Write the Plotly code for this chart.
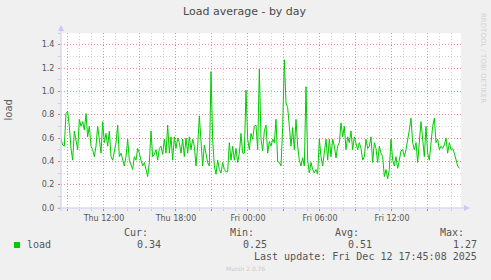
import plotly.graph_objects as go
import pandas as pd

# ---------------- data ----------------
end_time = "2025-12-12 17:45:08"
start_time = "2025-12-11 08:25:08"
step_seconds = 500

load_values = [
    # Thu morning -> afternoon
    0.59, 0.54, 0.53, 0.81, 0.83, 0.70, 0.51, 0.41, 0.66, 0.59,
    0.50, 0.76, 0.70, 0.74, 0.67, 0.81, 0.61, 0.70, 0.53, 0.50,
    0.44, 0.53, 0.70, 0.59, 0.47, 0.74, 0.56, 0.64, 0.53, 0.66,
    0.44, 0.41, 0.50, 0.56, 0.71, 0.44, 0.47, 0.41, 0.36, 0.44,
    0.59, 0.41, 0.36, 0.33, 0.44, 0.41, 0.51, 0.47, 0.41, 0.36,
    0.39, 0.33, 0.27, 0.39, 0.66, 0.44, 0.46, 0.50, 0.41, 0.51,
    # Thu afternoon -> night
    0.53, 0.46, 0.59, 0.47, 0.71, 0.47, 0.61, 0.41, 0.61, 0.51,
    0.60, 0.56, 0.47, 0.59, 0.44, 0.60, 0.47, 0.61, 0.50, 0.59,
    0.53, 0.36, 0.53, 0.79, 0.53, 0.36, 0.54, 0.47, 0.39, 0.36,
    1.17, 0.59, 0.36, 0.29, 0.41, 0.33, 0.30, 0.39, 0.33, 0.31,
    0.31, 0.56, 0.41, 0.53, 0.41, 0.51, 0.39, 0.47, 0.64, 0.47,
    0.47, 1.01, 0.59, 0.50, 0.64, 0.59, 0.70, 0.71, 0.50, 1.19,
    # Fri night -> morning
    0.59, 0.49, 0.66, 0.71, 0.47, 0.57, 0.53, 0.59, 0.56, 0.76,
    0.40, 0.39, 0.36, 0.69, 1.27, 0.90, 0.86, 0.70, 0.53, 0.69,
    0.50, 0.76, 0.53, 0.41, 0.36, 0.43, 0.36, 1.04, 0.41, 0.30,
    0.39, 0.33, 0.30, 0.33, 0.29, 0.59, 0.44, 0.36, 0.47, 0.59,
    0.41, 0.59, 0.44, 0.59, 0.53, 0.43, 0.53, 0.56, 0.73, 0.61,
    0.70, 0.50, 0.61, 0.56, 0.66, 0.50, 0.61, 0.56, 0.50, 0.56,
    # Fri morning -> evening
    0.51, 0.41, 0.44, 0.59, 0.51, 0.53, 0.61, 0.39, 0.56, 0.51,
    0.39, 0.53, 0.47, 0.44, 0.27, 0.33, 0.25, 0.33, 0.59, 0.41,
    0.36, 0.44, 0.34, 0.41, 0.49, 0.50, 0.44, 0.50, 0.61, 0.67,
    0.77, 0.56, 0.50, 0.56, 0.39, 0.56, 0.74, 0.59, 0.44, 0.70,
    0.47, 0.41, 0.56, 0.70, 0.77, 0.56, 0.59, 0.50, 0.53, 0.51,
    0.54, 0.60, 0.47, 0.56, 0.50, 0.51, 0.47, 0.41, 0.36, 0.34,
]

tick_times = [
    "2025-12-11 09:00", "2025-12-11 12:00", "2025-12-11 15:00",
    "2025-12-11 18:00", "2025-12-11 21:00", "2025-12-12 00:00",
    "2025-12-12 03:00", "2025-12-12 06:00", "2025-12-12 09:00",
    "2025-12-12 12:00", "2025-12-12 15:00",
]
tick_labels = ["", "Thu 12:00", "", "Thu 18:00", "", "Fri 00:00",
               "", "Fri 06:00", "", "Fri 12:00", ""]

y_ticks = [0.0, 0.2, 0.4, 0.6, 0.8, 1.0, 1.2, 1.4]

legend_name = "load"
stat_headers = ["Cur:", "Min:", "Avg:", "Max:"]
stat_values = ["0.34", "0.25", "0.51", "1.27"]
last_update = "Last update: Fri Dec 12 17:45:08 2025"

# ---------------- figure ----------------
times = pd.date_range(start=start_time, periods=len(load_values),
                      freq=f"{step_seconds}s")

W, H = 491, 280
L, R, T, B = 61, 461, 33, 208  # plot area in pixels


def px(xp):
    return (xp - L) / (R - L)


def py(yp):
    return (B - yp) / (B - T)


GREEN = "#00CC00"
AXIS = "#C8C8FA"
MGRID = "rgba(255,0,0,0.30)"
GRID = "rgba(150,150,150,0.40)"
TXT = "#555555"
MONO = "DejaVu Sans Mono"
SANS = "DejaVu Sans"
DASH = "1px,2px"

fig = go.Figure()
fig.add_trace(go.Scatter(x=times, y=load_values, mode="lines",
                         line=dict(color=GREEN, width=1),
                         hoverinfo="skip", showlegend=False))

fig.update_layout(
    width=W, height=H,
    margin=dict(l=L, r=W - R, t=T, b=H - B),
    paper_bgcolor="#F0F0F0",
    plot_bgcolor="#FFFFFF",
    showlegend=False,
    font=dict(family=SANS, color=TXT, size=8),
)

fig.update_xaxes(
    type="date",
    range=[start_time, end_time],
    tickmode="array", tickvals=tick_times, ticktext=tick_labels,
    showgrid=True, gridcolor=MGRID, griddash=DASH, gridwidth=1,
    ticks="outside", ticklen=2, tickcolor="rgba(255,0,0,0.45)",
    tickfont=dict(family=SANS, size=8, color=TXT),
    minor=dict(dtick=3600000, tick0="2025-12-11 00:00", showgrid=True,
               gridcolor=GRID, griddash=DASH, gridwidth=1,
               ticks="outside", ticklen=2, tickcolor=GRID),
    showline=False, zeroline=False, fixedrange=True,
)
fig.update_yaxes(
    range=[0, 1.5],
    tickmode="array", tickvals=y_ticks, tickformat=".1f",
    showgrid=True, gridcolor=MGRID, griddash=DASH, gridwidth=1,
    ticks="outside", ticklen=2, tickcolor="rgba(255,0,0,0.45)",
    tickfont=dict(family=SANS, size=8, color=TXT),
    minor=dict(dtick=0.1, tick0=0, showgrid=True,
               gridcolor=GRID, griddash=DASH, gridwidth=1,
               ticks="outside", ticklen=2, tickcolor=GRID),
    showline=False, zeroline=False, fixedrange=True,
    ticklabelstandoff=2,
)

shapes = []
shapes.append(dict(type="line", xref="paper", yref="paper",
                   x0=px(L), x1=px(L), y0=py(B + 3), y1=py(29),
                   line=dict(color=AXIS, width=1)))
shapes.append(dict(type="path", xref="paper", yref="paper",
                   path=f"M {px(L-3)} {py(31)} L {px(L+3)} {py(31)} L {px(L)} {py(25)} Z",
                   fillcolor=AXIS, line=dict(color=AXIS, width=0)))
shapes.append(dict(type="line", xref="paper", yref="paper",
                   x0=px(L - 4), x1=px(466), y0=py(B), y1=py(B),
                   line=dict(color=AXIS, width=1)))
shapes.append(dict(type="path", xref="paper", yref="paper",
                   path=f"M {px(464)} {py(B-3)} L {px(464)} {py(B+3)} L {px(470)} {py(B)} Z",
                   fillcolor=AXIS, line=dict(color=AXIS, width=0)))
shapes.append(dict(type="rect", xref="paper", yref="paper",
                   x0=px(14), x1=px(20), y0=py(248), y1=py(242),
                   fillcolor=GREEN, line=dict(color=GREEN, width=0)))
fig.update_layout(shapes=shapes)

ann = []


def add_text(text, x, y, size, family=SANS, color=TXT, xanchor="center",
             angle=0):
    ann.append(dict(text=text, xref="paper", yref="paper", x=px(x), y=py(y),
                    xanchor=xanchor, yanchor="middle", showarrow=False,
                    borderpad=0, textangle=angle,
                    font=dict(family=family, size=size, color=color)))


add_text("Load average - by day", 245, 11, 11, color="#4A4A4A")
add_text("load", 8.5, 110, 10, color="#606060", angle=-90)
add_text("RRDTOOL / TOBI OETIKER", 483, 58, 7, color="#D2D2D2", angle=90)

add_text(legend_name, 26, 244.5, 10, family=MONO, xanchor="left")
head_right = [148.5, 255, 360, 465]
val_right = [162, 267.5, 372.5, 477.5]
for h, v, hx, vx in zip(stat_headers, stat_values, head_right, val_right):
    add_text(h, hx, 232.5, 10, family=MONO, xanchor="right")
    add_text(v, vx, 244.5, 10, family=MONO, xanchor="right")
add_text(last_update, 477.5, 256.8, 10, family=MONO, xanchor="right")
add_text("Munin 2.0.76", 245, 268.3, 6, color="#C8C8C8")

fig.update_layout(annotations=ann)

fig.write_html("out.html")
